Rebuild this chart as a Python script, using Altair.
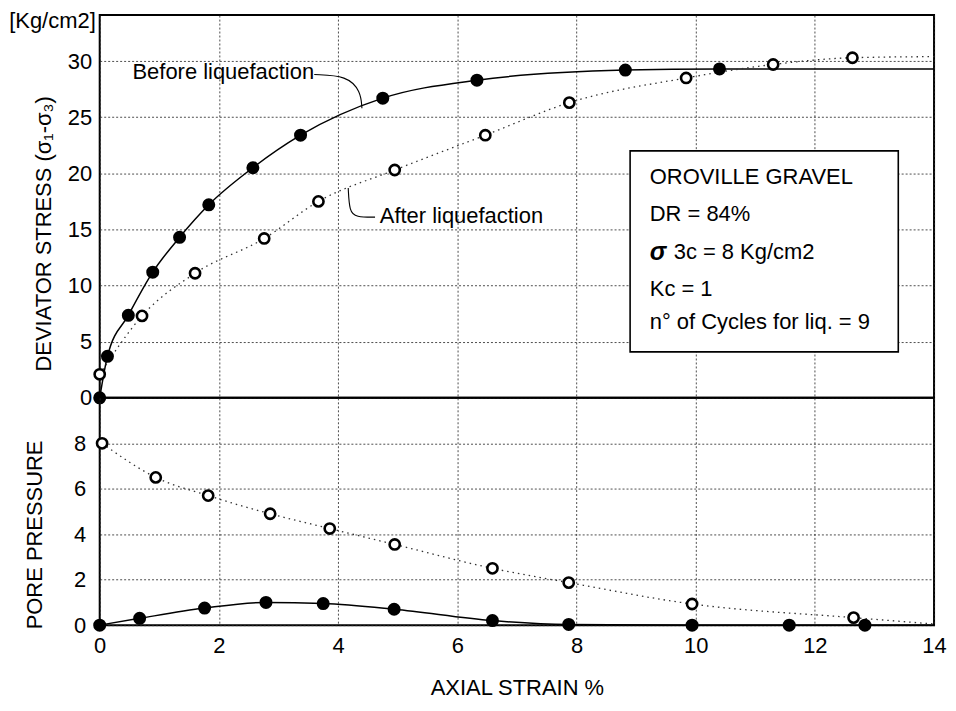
import altair as alt
import pandas as pd

# ---------------- data ----------------
x_ticks = [0, 2, 4, 6, 8, 10, 12, 14]
stress_ticks = [0, 5, 10, 15, 20, 25, 30]
pore_ticks = [0, 2, 4, 6, 8]

# deviator stress, before liquefaction (filled)
strain_before = [0, 0.13, 0.48, 0.89, 1.34, 1.83, 2.57, 3.37, 4.75, 6.33, 8.82, 10.4]
stress_before = [0, 3.7, 7.35, 11.2, 14.3, 17.2, 20.5, 23.4, 26.7, 28.3, 29.2, 29.3]
# deviator stress, after liquefaction (open)
strain_after = [0, 0.71, 1.6, 2.76, 3.67, 4.95, 6.47, 7.88, 9.84, 11.3, 12.63]
stress_after = [2.1, 7.3, 11.1, 14.2, 17.5, 20.3, 23.4, 26.3, 28.5, 29.7, 30.3]
curve_end_strain = 14
stress_before_end = 29.3
stress_after_end = 30.4

# pore pressure
pp_strain_before = [0, 0.67, 1.76, 2.79, 3.75, 4.94, 6.59, 7.87, 9.94, 11.57, 12.84]
pp_before = [0, 0.3, 0.75, 1.0, 0.95, 0.7, 0.2, 0.03, 0, 0, 0]
pp_strain_after = [0.04, 0.94, 1.82, 2.86, 3.86, 4.95, 6.59, 7.87, 9.94, 12.65]
pp_after = [8.0, 6.5, 5.7, 4.9, 4.25, 3.55, 2.5, 1.87, 0.93, 0.33]
pp_before_end = 0.0
pp_after_end = 0.05

info_lines = ["OROVILLE GRAVEL", "DR = 84%", "3c = 8 Kg/cm2", "Kc = 1", "n\u00b0 of Cycles for liq. = 9"]

# ---------------- annotation layout (data coordinates) ----------------
before_leader_x = [3.6, 4.15, 4.38, 4.4]
before_leader_y = [28.8, 28.7, 27.3, 25.8]
after_leader_x = [4.17, 4.19, 4.3, 4.62]
after_leader_y = [18.7, 16.6, 16.1, 16.1]
info_y = [19.7, 16.35, 12.97, 9.7, 6.8]

FONT = "Liberation Sans"
FS = 22


def frame(xs, ys):
    return pd.DataFrame({"x": xs, "y": ys})


x_scale = alt.Scale(domain=[0, 14], nice=False, zero=False)
top_y_scale = alt.Scale(domain=[0, 34.1], nice=False, zero=False)
bot_y_scale = alt.Scale(domain=[0, 10], nice=False, zero=False)

top_x_axis = alt.Axis(values=x_ticks, labels=False, ticks=False, domain=False, title=None, grid=True)
top_y_axis = alt.Axis(values=stress_ticks, title="DEVIATOR STRESS (\u03c3\u2081-\u03c3\u2083)", grid=True,
                      labelPadding=8, titleX=-44, titleY=219)
bot_x_axis = alt.Axis(values=x_ticks, title="AXIAL STRAIN %", grid=True, labelPadding=10,
                      titlePadding=22, labelFlush=False, labelOverlap=False)
bot_y_axis = alt.Axis(values=pore_ticks, title="PORE PRESSURE", grid=True, labelPadding=14,
                      titleX=-53, titleY=137)


def enc_top(ch):
    return ch.encode(x=alt.X("x:Q", scale=x_scale, axis=top_x_axis),
                     y=alt.Y("y:Q", scale=top_y_scale, axis=top_y_axis))


def enc_bot(ch):
    return ch.encode(x=alt.X("x:Q", scale=x_scale, axis=bot_x_axis),
                     y=alt.Y("y:Q", scale=bot_y_scale, axis=bot_y_axis))


solid = dict(color="black", strokeWidth=1.5, interpolate="monotone")
dotted = dict(color="#333", strokeWidth=1.3, strokeDash=[1.5, 4], interpolate="monotone")
filled_pt = dict(shape="circle", filled=True, color="black", size=170, opacity=1)
open_pt = dict(shape="circle", fill="white", fillOpacity=1, stroke="black", strokeWidth=2.6, size=105, opacity=1)

# ---------------- top panel ----------------
top_layers = [
    enc_top(alt.Chart(frame(strain_before + [curve_end_strain], stress_before + [stress_before_end])).mark_line(**solid)),
    enc_top(alt.Chart(frame(strain_after + [curve_end_strain], stress_after + [stress_after_end])).mark_line(**dotted)),
    enc_top(alt.Chart(frame(before_leader_x, before_leader_y)).mark_line(color="black", strokeWidth=1.1, interpolate="basis")),
    enc_top(alt.Chart(frame(after_leader_x, after_leader_y)).mark_line(color="black", strokeWidth=1.1, interpolate="basis")),
    enc_top(alt.Chart(frame(strain_before, stress_before)).mark_point(**filled_pt)),
    enc_top(alt.Chart(frame(strain_after, stress_after)).mark_point(**open_pt)),
    alt.Chart(pd.DataFrame({"x": [8.9], "x2": [13.4], "y": [22.0], "y2": [4.1]})).mark_rect(
        fill="white", stroke="black", strokeWidth=1.6).encode(
        x=alt.X("x:Q", scale=x_scale, axis=top_x_axis), x2="x2:Q",
        y=alt.Y("y:Q", scale=top_y_scale, axis=top_y_axis), y2="y2:Q"),
    enc_top(alt.Chart(pd.DataFrame({"x": [9.23] * 5, "y": info_y, "t": info_lines})).mark_text(
        align="left", baseline="middle", font=FONT, fontSize=FS, color="black").transform_filter(
        alt.datum.t != info_lines[2])).encode(text="t:N"),
    enc_top(alt.Chart(pd.DataFrame({"x": [9.23], "y": [info_y[2]], "t": [info_lines[2]]})).mark_text(
        align="left", baseline="middle", font=FONT, fontSize=FS, color="black", dx=24)).encode(text="t:N"),
    enc_top(alt.Chart(pd.DataFrame({"x": [9.23], "y": [info_y[2]], "t": ["\u03c3"]})).mark_text(
        align="left", baseline="middle", font=FONT, fontSize=FS + 3, fontStyle="italic", fontWeight="bold",
        color="black")).encode(text="t:N"),
    enc_top(alt.Chart(pd.DataFrame({"x": [0.55, 4.7], "y": [29.0, 16.2],
                                    "t": ["Before liquefaction", "After liquefaction"]})).mark_text(
        align="left", baseline="middle", font=FONT, fontSize=FS, color="black")).encode(text="t:N"),
    alt.Chart(pd.DataFrame({"t": ["[Kg/cm2]"]})).mark_text(
        align="right", baseline="middle", font=FONT, fontSize=FS, color="black").encode(
        x=alt.value(-4), y=alt.value(6), text="t:N"),
]
top = alt.layer(*top_layers).properties(width=837, height=384)

# ---------------- bottom panel ----------------
bot_layers = [
    enc_bot(alt.Chart(frame(pp_strain_before + [curve_end_strain], pp_before + [pp_before_end])).mark_line(**solid)),
    enc_bot(alt.Chart(frame(pp_strain_after + [curve_end_strain], pp_after + [pp_after_end])).mark_line(**dotted)),
    enc_bot(alt.Chart(frame(pp_strain_before, pp_before)).mark_point(**filled_pt)),
    enc_bot(alt.Chart(frame(pp_strain_after, pp_after)).mark_point(**open_pt)),
]
bottom = alt.layer(*bot_layers).properties(width=837, height=228)

chart = alt.vconcat(top, bottom, spacing=0, bounds="flush").properties(
    padding={"left": 0, "top": 0, "right": 0, "bottom": 0}
).configure_view(stroke="black", strokeWidth=2).configure_axis(
    labelFont=FONT, titleFont=FONT, labelFontSize=FS, titleFontSize=FS, labelColor="black",
    titleColor="black", titleFontWeight="normal", gridColor="#222", gridDash=[2, 2], gridWidth=0.8,
    ticks=False, domain=False, tickSize=0
).configure_concat(spacing=0)

chart.save("out.html", embed_options={"renderer": "svg", "actions": False})
